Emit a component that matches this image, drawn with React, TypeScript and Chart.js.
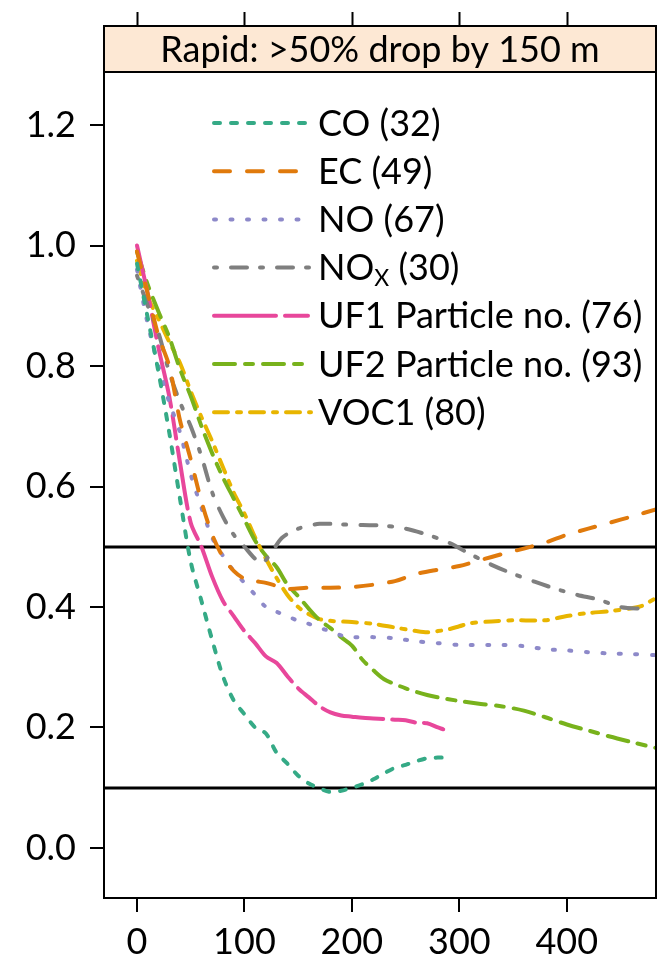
import React, { useEffect, useRef } from "react";
import { Chart, registerables } from "chart.js";

Chart.register(...registerables);

// ---------------- data ----------------
const coX = [0, 10, 20, 30, 40, 50, 60, 70, 80, 90, 100, 110, 120, 130, 140, 150, 160, 170, 180, 190, 200, 210, 220, 230, 240, 250, 260, 270, 280, 285];
const coY = [0.97, 0.88, 0.79, 0.69, 0.58, 0.475, 0.41, 0.345, 0.285, 0.245, 0.222, 0.2, 0.19, 0.158, 0.14, 0.12, 0.107, 0.099, 0.093, 0.095, 0.1, 0.106, 0.114, 0.124, 0.133, 0.138, 0.144, 0.149, 0.15, 0.15];

const ecX = [0, 10, 20, 30, 40, 50, 60, 70, 80, 90, 100, 110, 120, 130, 140, 160, 180, 200, 220, 240, 260, 280, 300, 320, 340, 360, 380, 400, 420, 440, 460, 483];
const ecY = [0.99, 0.92, 0.85, 0.8, 0.71, 0.645, 0.575, 0.52, 0.483, 0.46, 0.447, 0.443, 0.44, 0.435, 0.43, 0.432, 0.432, 0.433, 0.437, 0.443, 0.455, 0.462, 0.468, 0.478, 0.488, 0.497, 0.507, 0.52, 0.53, 0.54, 0.55, 0.562];

const noX = [0, 10, 20, 30, 40, 50, 60, 70, 80, 90, 100, 110, 120, 130, 140, 150, 160, 170, 180, 190, 200, 220, 240, 260, 280, 300, 340, 360, 380, 400, 420, 440, 460, 483];
const noY = [0.96, 0.87, 0.8, 0.74, 0.69, 0.62, 0.565, 0.515, 0.485, 0.46, 0.44, 0.42, 0.4, 0.392, 0.385, 0.377, 0.372, 0.365, 0.36, 0.353, 0.35, 0.35, 0.348, 0.343, 0.34, 0.337, 0.337, 0.335, 0.33, 0.328, 0.325, 0.323, 0.322, 0.32];

const noxX = [0, 10, 20, 30, 40, 50, 60, 70, 80, 90, 100, 110, 117, 125, 135, 150, 170, 190, 210, 230, 250, 270, 290, 310, 330, 350, 370, 390, 410, 430, 450, 472];
const noxY = [0.95, 0.9, 0.855, 0.79, 0.74, 0.7, 0.65, 0.59, 0.55, 0.52, 0.5, 0.48, 0.474, 0.49, 0.515, 0.53, 0.538, 0.537, 0.536, 0.535, 0.53, 0.52, 0.507, 0.488, 0.47, 0.455, 0.442, 0.43, 0.42, 0.412, 0.4, 0.397];

const uf1X = [0, 10, 20, 30, 40, 50, 60, 70, 80, 90, 100, 110, 120, 130, 140, 150, 160, 170, 180, 190, 200, 210, 220, 230, 240, 250, 260, 270, 280, 285];
const uf1Y = [1.0, 0.92, 0.83, 0.75, 0.64, 0.54, 0.5, 0.45, 0.41, 0.385, 0.36, 0.34, 0.318, 0.307, 0.285, 0.265, 0.25, 0.235, 0.225, 0.22, 0.218, 0.216, 0.215, 0.214, 0.213, 0.212, 0.208, 0.207, 0.2, 0.197];

const uf2X = [0, 10, 20, 30, 40, 50, 60, 70, 80, 90, 100, 110, 120, 130, 140, 150, 160, 170, 180, 190, 200, 210, 220, 230, 240, 250, 260, 270, 280, 300, 320, 340, 360, 380, 400, 420, 440, 460, 483];
const uf2Y = [0.99, 0.935, 0.89, 0.848, 0.795, 0.75, 0.7, 0.655, 0.615, 0.58, 0.545, 0.51, 0.485, 0.466, 0.437, 0.418, 0.397, 0.378, 0.365, 0.35, 0.336, 0.312, 0.295, 0.28, 0.272, 0.265, 0.259, 0.254, 0.25, 0.244, 0.239, 0.235, 0.228, 0.217, 0.205, 0.195, 0.185, 0.176, 0.166];

const vocX = [0, 10, 20, 30, 40, 50, 60, 70, 80, 90, 100, 110, 120, 130, 140, 150, 160, 170, 180, 200, 220, 240, 260, 270, 280, 290, 300, 310, 330, 350, 380, 400, 420, 440, 460, 470, 483];
const vocY = [0.975, 0.915, 0.878, 0.84, 0.805, 0.758, 0.715, 0.675, 0.632, 0.59, 0.555, 0.515, 0.48, 0.448, 0.42, 0.4, 0.388, 0.38, 0.377, 0.375, 0.372, 0.366, 0.36, 0.358, 0.36, 0.363, 0.368, 0.373, 0.376, 0.378, 0.378, 0.385, 0.39, 0.393, 0.398, 0.402, 0.415];

const legendNames = ["CO", "EC", "NO", "NO", "UF1 Particle no.", "UF2 Particle no.", "VOC1"];
const legendSubs = ["", "", "", "X", "", "", ""];
const legendCounts = [32, 49, 67, 30, 76, 93, 80];

const xTickValues = [0, 100, 200, 300, 400];
const yTickValues = [0, 0.2, 0.4, 0.6, 0.8, 1.0, 1.2];
const refLines = [0.5, 0.1];
const stripTitle = "Rapid: >50% drop by 150 m";

// ---------------- styles ----------------
const colors = ["#35AA86", "#E07A0C", "#8D89C9", "#7F7F7F", "#E8479B", "#78B21C", "#E8B500"];
const LW = 4;
const dashes = [
  [6, 11],
  [16, 17],
  [2, 14.5],
  [3, 14, 16, 13],
  [62, 9, 23, 9],
  [21, 10, 8, 10],
  [14, 9, 4, 9],
];
const FONT = "Lato, 'Open Sans', sans-serif";

function pts(xs: number[], ys: number[]) {
  return xs.map((x, i) => ({ x, y: ys[i] }));
}

const seriesX = [coX, ecX, noX, noxX, uf1X, uf2X, vocX];
const seriesY = [coY, ecY, noY, noxY, uf1Y, uf2Y, vocY];

const latticePlugin = {
  id: "lattice",
  beforeDatasetsDraw(chart: any) {
    const { ctx, chartArea, scales } = chart;
    ctx.save();
    ctx.beginPath();
    ctx.rect(chartArea.left, chartArea.top, chartArea.right - chartArea.left, chartArea.bottom - chartArea.top);
    ctx.clip();
    ctx.strokeStyle = "#000";
    ctx.lineWidth = 3;
    refLines.forEach((v) => {
      const y = Math.round(scales.y.getPixelForValue(v));
      ctx.beginPath();
      ctx.moveTo(chartArea.left, y);
      ctx.lineTo(chartArea.right, y);
      ctx.stroke();
    });
    ctx.restore();
  },
  afterDraw(chart: any) {
    const { ctx, chartArea, scales } = chart;
    const L = chartArea.left, R = chartArea.right, T = chartArea.top, B = chartArea.bottom;
    const stripTop = 26;
    ctx.save();
    // strip
    ctx.fillStyle = "#FDE8D4";
    ctx.fillRect(L, stripTop, R - L, T - stripTop);
    ctx.strokeStyle = "#000";
    ctx.lineWidth = 2;
    ctx.strokeRect(L, stripTop, R - L, T - stripTop);
    ctx.fillStyle = "#000";
    ctx.font = `36px ${FONT}`;
    ctx.textAlign = "center";
    ctx.textBaseline = "middle";
    ctx.fillText(stripTitle, (L + R) / 2, (stripTop + T) / 2 + 1);
    // panel border
    ctx.strokeRect(L, T, R - L, B - T);
    // top ticks
    xTickValues.forEach((v) => {
      const x = Math.round(scales.x.getPixelForValue(v)) + 0.5;
      ctx.beginPath();
      ctx.moveTo(x, stripTop);
      ctx.lineTo(x, stripTop - 14);
      ctx.stroke();
    });
    // legend
    const lx0 = 214, lx1 = 311, tx = 318;
    legendNames.forEach((name, i) => {
      const y = 123 + i * 48.2;
      ctx.strokeStyle = colors[i];
      ctx.lineWidth = LW;
      ctx.lineCap = "round";
      ctx.setLineDash(dashes[i]);
      ctx.beginPath();
      ctx.moveTo(lx0, y);
      ctx.lineTo(lx1, y);
      ctx.stroke();
      ctx.setLineDash([]);
      ctx.fillStyle = "#000";
      ctx.textAlign = "left";
      ctx.textBaseline = "middle";
      ctx.font = `36px ${FONT}`;
      let x = tx;
      ctx.fillText(name, x, y + 1);
      x += ctx.measureText(name).width;
      if (legendSubs[i]) {
        ctx.font = `23px ${FONT}`;
        ctx.fillText(legendSubs[i], x, y + 11);
        x += ctx.measureText(legendSubs[i]).width;
        ctx.font = `36px ${FONT}`;
      }
      ctx.fillText(` (${legendCounts[i]})`, x, y + 1);
    });
    ctx.restore();
  },
};

export default function App() {
  const ref = useRef<HTMLCanvasElement>(null);
  useEffect(() => {
    document.body.style.margin = "0";
    const datasets = legendNames.map((n, i) => ({
      label: n + legendSubs[i],
      data: pts(seriesX[i], seriesY[i]),
      borderColor: colors[i],
      borderWidth: LW,
      borderDash: dashes[i],
      borderCapStyle: "round" as const,
      pointRadius: 0,
      tension: 0.3,
      fill: false,
    }));
    const chart = new Chart(ref.current!, {
      type: "line",
      data: { datasets },
      plugins: [latticePlugin],
      options: {
        responsive: false,
        animation: false,
        devicePixelRatio: 1,
        layout: { padding: { top: 72, right: 1, left: 0, bottom: 0 } },
        plugins: { legend: { display: false }, tooltip: { enabled: false } },
        scales: {
          x: {
            type: "linear",
            min: -30.7,
            max: 483,
            afterBuildTicks: (axis: any) => {
              axis.ticks = xTickValues.map((v) => ({ value: v }));
            },
            afterFit: (axis: any) => {
              axis.height = 65;
            },
            grid: { drawOnChartArea: false, drawTicks: true, tickLength: 14, color: "#000", lineWidth: 2 },
            border: { display: true, color: "#000", width: 2 },
            ticks: { color: "#000", font: { family: FONT, size: 36 }, padding: 9, maxRotation: 0, autoSkip: false },
          },
          y: {
            type: "linear",
            min: -0.083,
            max: 1.288,
            afterBuildTicks: (axis: any) => {
              axis.ticks = yTickValues.map((v) => ({ value: v }));
            },
            afterFit: (axis: any) => {
              axis.width = 104;
            },
            grid: { drawOnChartArea: false, drawTicks: true, tickLength: 14, color: "#000", lineWidth: 2 },
            border: { display: true, color: "#000", width: 2 },
            ticks: {
              color: "#000",
              font: { family: FONT, size: 36 },
              padding: 14,
              autoSkip: false,
              callback: (v: any) => Number(v).toFixed(1),
            },
          },
        },
      },
    });
    return () => chart.destroy();
  }, []);
  return (
    <div style={{ position: "fixed", left: 0, top: 0, width: 657, height: 963, background: "#fff" }}>
      <canvas ref={ref} width={657} height={963} style={{ width: 657, height: 963 }} />
    </div>
  );
}
